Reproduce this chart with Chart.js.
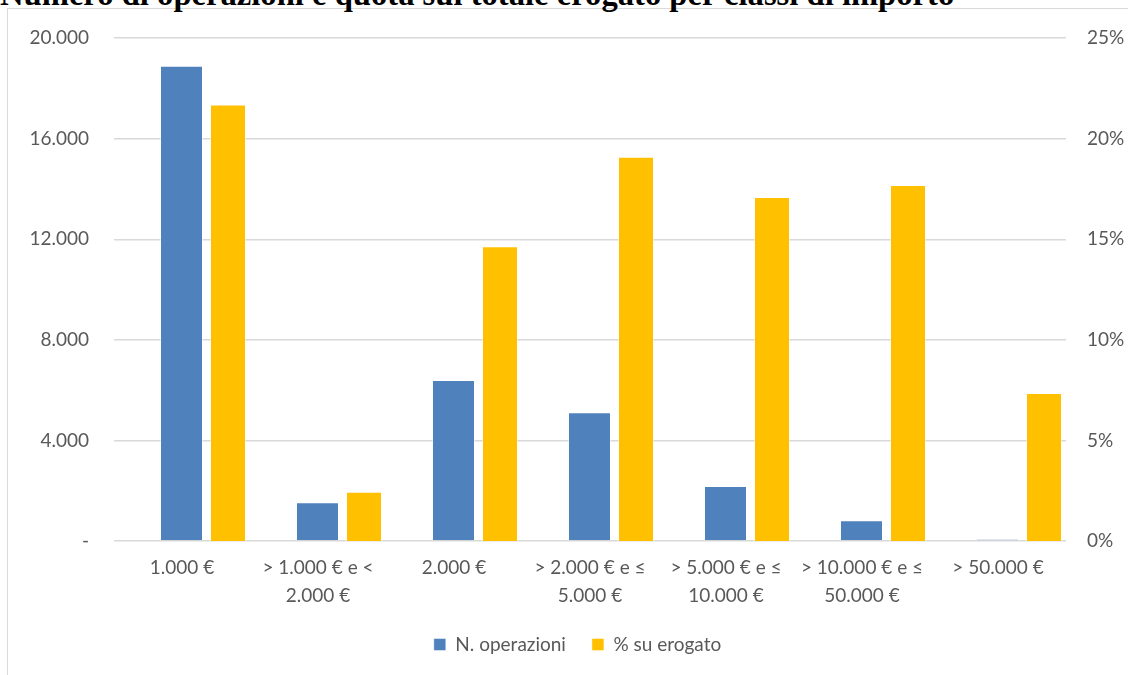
<!DOCTYPE html>
<html lang="it">
<head>
<meta charset="utf-8">
<script src="https://cdn.jsdelivr.net/npm/chart.js@4.4.1/dist/chart.umd.min.js"></script>
<style>
  html, body { margin: 0; padding: 0; background: #fff; overflow: hidden; }
  body { width: 1128px; height: 675px; position: relative; }
  #frame { position: absolute; left: 7px; top: 8px; width: 1140px; height: 690px; border: 1px solid #d9d9d9; box-sizing: border-box; }
  #title { position: absolute; left: 0; white-space: nowrap; font-family: "Liberation Serif", "Times New Roman", serif; font-weight: bold; color: #000; line-height: 1; }
  #wrap { position: absolute; left: 0; top: 0; width: 1128px; height: 675px; }
</style>
</head>
<body>
<div id="frame"></div>
<div id="title">Numero di operazioni e quota sul totale erogato per classi di importo</div>
<div id="wrap"><canvas id="chart"></canvas></div>
<script>
const categories = [
  ["1.000 €"],
  ["> 1.000 € e <", "2.000 €"],
  ["2.000 €"],
  ["> 2.000 € e ≤", "5.000 €"],
  ["> 5.000 € e ≤", "10.000 €"],
  ["> 10.000 € e ≤", "50.000 €"],
  ["> 50.000 €"],
];
const operazioni = [18900, 1540, 6400, 5120, 2190, 830, 70];
const quotaErogato = [21.7, 2.45, 14.65, 19.1, 17.1, 17.7, 7.35];
const leftTicks = [0, 4000, 8000, 12000, 16000, 20000];
const rightTicks = [0, 5, 10, 15, 20, 25];

// title: stretch to the width it has in the picture, top is cut off
const title = document.getElementById("title");
const mctx = document.createElement("canvas").getContext("2d");
mctx.font = 'bold 100px "Liberation Serif"';
const fs = 955 / mctx.measureText(title.textContent).width * 100;
title.style.fontSize = fs + "px";
title.style.top = (5 - 0.8375 * fs) + "px";

const txt = "#595959";
const font = {family: "Lato", size: 19};
const thousands = (v) => String(v).replace(/\B(?=(\d{3})+(?!\d))/g, ".");

new Chart(document.getElementById("chart"), {
  type: "bar",
  data: {
    labels: categories,
    datasets: [
      {
        label: "N. operazioni",
        data: operazioni,
        yAxisID: "y",
        backgroundColor: "#4f81bd",
        borderColor: "rgba(255,255,255,0.45)",
        borderWidth: 1,
        // blue sits on the category centre, yellow to its right
        categoryPercentage: 0.0147,
        barPercentage: 43,
      },
      {
        label: "% su erogato",
        data: quotaErogato,
        yAxisID: "y1",
        backgroundColor: "#ffc000",
        borderColor: "rgba(255,255,255,0.45)",
        borderWidth: 1,
        categoryPercentage: 1.353,
        barPercentage: 0.391,
      },
    ],
  },
  options: {
    responsive: true,
    maintainAspectRatio: false,
    animation: false,
    layout: {padding: {top: 38, left: 27, right: 0, bottom: 11}},
    plugins: {
      tooltip: {enabled: false},
      legend: {
        position: "bottom",
        labels: {boxWidth: 12, boxHeight: 12, padding: 26, color: txt, font: font},
      },
    },
    scales: {
      x: {
        grid: {display: false, drawTicks: false},
        border: {display: false},
        ticks: {color: txt, font: {family: "Lato", size: 19, lineHeight: 1.46}, padding: 13, maxRotation: 0, autoSkip: false},
        afterFit(s) { s.height = 68; },
      },
      y: {
        position: "left",
        min: 0,
        max: 20000,
        afterBuildTicks(s) { s.ticks = leftTicks.map((v) => ({value: v})); },
        ticks: {color: txt, font: font, padding: 25, callback: (v) => (v === 0 ? "-" : thousands(v))},
        grid: {color: "#d9d9d9", lineWidth: 1.4, drawTicks: false},
        border: {display: false},
        afterFit(s) { s.width = 87; },
      },
      y1: {
        position: "right",
        min: 0,
        max: 25,
        afterBuildTicks(s) { s.ticks = rightTicks.map((v) => ({value: v})); },
        ticks: {color: txt, font: font, padding: 21, callback: (v) => v + "%"},
        grid: {display: false, drawTicks: false},
        border: {display: false},
        afterFit(s) { s.width = 62; },
      },
    },
  },
});
</script>
</body>
</html>
